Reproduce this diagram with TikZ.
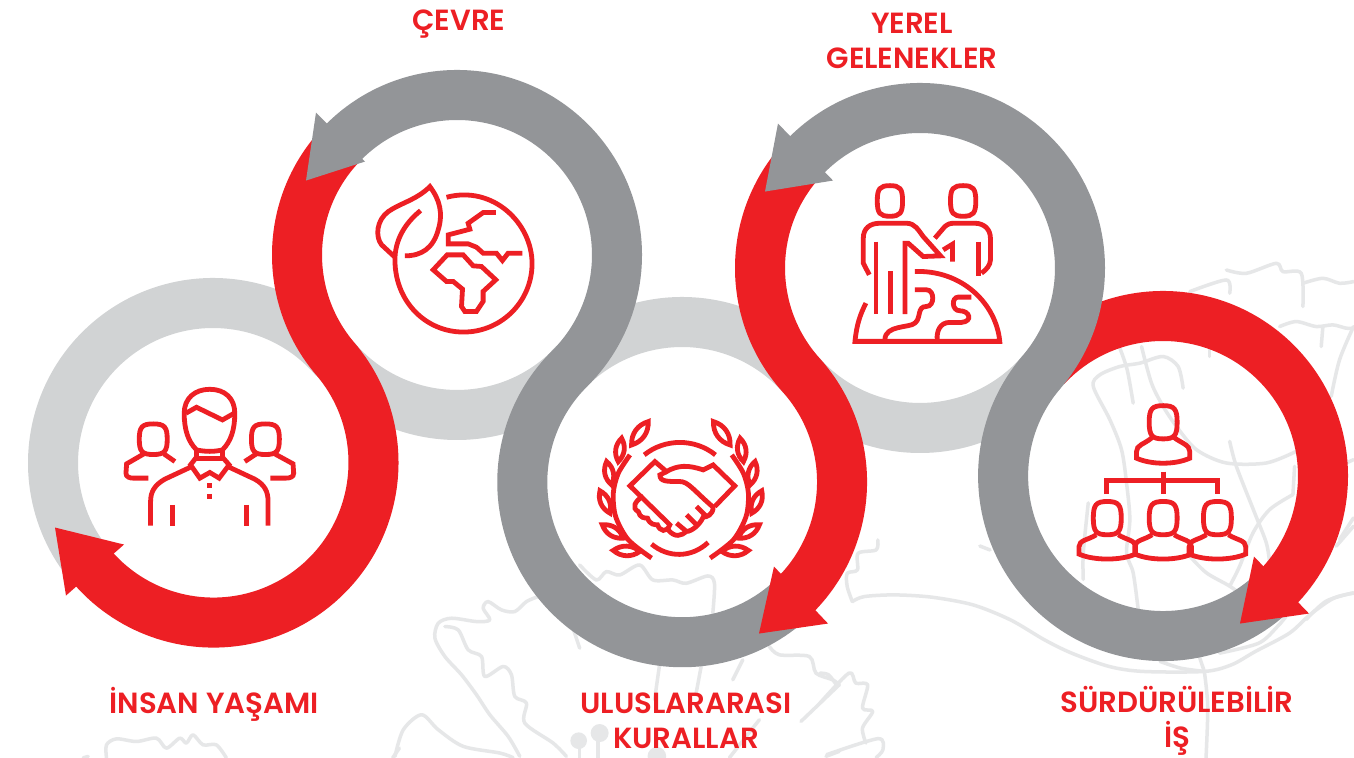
\documentclass[tikz,border=0pt]{standalone}
\usepackage{fontspec}
\setmainfont{Poppins SemiBold}
\definecolor{rred}{HTML}{ED1F24}
\definecolor{rdark}{HTML}{939598}
\definecolor{rlight}{HTML}{D1D3D4}
\definecolor{rmap}{HTML}{E6E7E8}
\tikzset{
  pxs/.style={x=0.01cm,y=-0.01cm,shift={(0cm,7.58cm)}},
  zm/.style 2 args={x=0.0033333cm,y=-0.0033333cm,shift={({#1*0.01cm},{(758-#2)*0.01cm})}},
  bandline/.style={line width=0.5cm,line cap=butt},
  icon/.style={draw=rred,line width=0.048cm,line join=miter,fill=none},
  mapline/.style={draw=rmap,line width=0.035cm,line cap=round,line join=round},
  lab/.style={text=rred,align=center,font=\fontsize{8.3pt}{9.96pt}\selectfont,inner sep=0pt}
}
\newcommand{\ringband}[4]{\draw[#1,bandline] ([shift={(#3:160)}]#2) arc[start angle=#3,end angle=#4,radius=160];}
\newcommand{\ringS}[6]{\draw[#1,bandline,line join=round] ([shift={(#3:160)}]#2) arc[start angle=#3,end angle=#4,radius=160] arc[start angle=#5,end angle=#6,radius=160];}
\newcommand{\ovhead}[4]{%
 \draw[icon] ({#1-#3},#2) .. controls ({#1-#3},{#2-0.8*#4}) and ({#1-0.8*#3},{#2-#4}) .. (#1,{#2-#4})
   .. controls ({#1+0.8*#3},{#2-#4}) and ({#1+#3},{#2-0.8*#4}) .. ({#1+#3},#2)
   .. controls ({#1+#3},{#2+0.8*#4}) and ({#1+0.8*#3},{#2+#4}) .. (#1,{#2+#4})
   .. controls ({#1-0.8*#3},{#2+#4}) and ({#1-#3},{#2+0.8*#4}) .. cycle;}
\newcommand{\leafshape}[4]{\draw[icon] (#1,#2) to[bend left=38] (#3,#4) to[bend left=38] (#1,#2) -- cycle;}
\newcommand{\orgbody}[1]{%
 \draw[icon] ({#1-33},420) .. controls ({#1-58},436) and ({#1-85},436) .. ({#1-85},456) -- ({#1-85},478)
   .. controls ({#1-40},498) and ({#1+40},498) .. ({#1+85},478) -- ({#1+85},456)
   .. controls ({#1+85},436) and ({#1+58},436) .. ({#1+33},420);}
\begin{document}
\begin{tikzpicture}[x=0.01cm,y=0.01cm]
\useasboundingbox (0,0) rectangle (1354,758);
\fill[white] (0,0) rectangle (1354,758);
% ---------- watermark map ----------
\begin{scope}[zm={380}{560}]
 \draw[mapline] plot[smooth] coordinates {(475,110)(440,125)(405,155)(365,150)(325,125)(310,145)(330,180)(290,185)(215,175)(175,190)(165,235)(195,290)(245,345)(290,405)(330,465)(385,530)(420,590)};
 \draw[mapline] plot[smooth] coordinates {(195,200)(235,210)(265,270)(305,290)(315,350)(370,320)(395,345)(405,410)(440,430)(435,490)(520,550)(560,590)};
 \draw[mapline] plot[smooth] coordinates {(600,15)(650,60)(680,35)(720,45)(780,15)(820,60)(880,60)(920,70)(985,48)(1005,70)(1000,160)};
 \draw[mapline] (575,190) -- (600,265);
 \draw[mapline] plot[smooth] coordinates {(45,590)(70,510)(125,465)(175,510)(250,560)(360,580)(400,594)};
 \draw[mapline] (840,315) -- (825,420);
 \draw[mapline] (965,320) -- (950,400);
 \draw[mapline] (1090,300) -- (1060,360);
 \draw[mapline] plot[smooth] coordinates {(1170,260)(1200,285)(1290,290)(1310,340)(1360,360)(1380,375)};
 \draw[mapline] (1380,375) -- (1265,485);
 \draw[mapline] (1140,480) -- (1050,594);
 \draw[mapline] (1340,590) -- (1380,575);
 \fill[rmap] (597,543) circle (25);
 \fill[rmap] (660,520) circle (27);
 \fill[rmap] (832,590) circle (28);
 \draw[mapline] (600,565) -- (600,594);
 \draw[mapline] (655,545) -- (655,594);
\end{scope}
\begin{scope}[zm={820}{540},xscale=1.022]
 \draw[mapline] plot[smooth] coordinates {(95,185)(130,170)(220,165)(330,172)(450,195)(560,240)(660,300)(740,340)(850,380)(950,395)(1130,395)(1210,375)(1280,335)(1380,280)(1440,225)(1510,175)(1568,160)};
 \draw[mapline] plot[smooth] coordinates {(95,185)(80,140)(80,100)(110,90)(112,40)(165,30)(170,0)};
 \draw[mapline] plot[smooth] coordinates {(1000,365)(1060,385)(1130,395)};
 \draw[mapline] plot[smooth] coordinates {(1130,395)(1140,500)(1135,654)};
 \draw[mapline] (1115,350) -- (1130,395);
 \draw[mapline] plot[smooth] coordinates {(1175,340)(1290,310)(1345,260)(1370,230)};
 \draw[mapline] plot[smooth] coordinates {(0,400)(25,405)(48,435)};
 \draw[mapline] plot[smooth] coordinates {(0,490)(85,400)(105,430)(140,435)(125,505)(155,515)(125,565)(135,610)};
 \draw[mapline] plot[smooth] coordinates {(20,645)(170,597)(185,630)(165,654)};
 \draw[mapline] (470,18) -- (500,30);
\end{scope}
\begin{scope}[zm={0}{640}]
 \draw[mapline] plot[smooth] coordinates {(320,354)(320,315)(350,297)(410,305)(470,295)(500,325)(540,295)(560,310)(580,285)(610,315)(650,315)(680,354)};
 \draw[mapline] (250,354) -- (265,350);
 \draw[mapline] (1180,354) -- (1200,325);
\end{scope}
\begin{scope}[zm={1040}{260}]
 \draw[mapline] plot[smooth] coordinates {(450,95)(560,60)(570,100)};
 \draw[mapline] plot[smooth] coordinates {(560,30)(620,40)(710,10)(730,35)(785,40)(790,140)};
 \draw[mapline] plot[smooth] coordinates {(790,70)(850,55)(900,70)(942,65)};
 \draw[mapline] plot[smooth] coordinates {(720,200)(770,185)(830,200)(880,195)(920,205)(942,205)};
 \draw[mapline] (850,200) -- (845,260);
 \draw[mapline] plot[smooth] coordinates {(942,200)(900,300)(875,410)};
 \draw[mapline] plot[smooth] coordinates {(430,385)(415,320)(370,290)(300,310)(240,320)(180,345)(160,380)(210,480)(245,570)(260,670)(270,780)(260,880)(280,940)(295,1050)};
 \draw[mapline] plot[smooth] coordinates {(240,265)(262,330)(280,430)};
 \draw[mapline] plot[smooth] coordinates {(305,260)(335,370)(370,440)(410,500)(470,570)(560,610)(680,610)(770,575)};
 \draw[mapline] (510,270) -- (510,290);
 \draw[mapline] plot[smooth] coordinates {(570,545)(590,620)(645,760)(680,850)(690,910)};
 \draw[mapline] plot[smooth] coordinates {(760,705)(690,750)(640,820)(600,920)(570,980)};
 \draw[mapline] plot[smooth] coordinates {(450,890)(500,940)(570,980)(610,1010)};
 \draw[mapline] plot[smooth] coordinates {(130,960)(130,880)(145,730)};
 \draw[mapline] (765,620) -- (760,705);
 \draw[mapline] (942,600) -- (920,610);
 \draw[mapline] (942,775) -- (900,840);
 \draw[mapline] plot[smooth] coordinates {(800,1080)(860,1025)(942,1000)};
 \draw[mapline] (942,800) -- (890,860);
\end{scope}
% ---------- ring centres ----------
\coordinate (c1) at (213,295);
\coordinate (c2) at (457,503);
\coordinate (c3) at (682,276);
\coordinate (c4) at (920,490);
\coordinate (c5) at (1163,282);
% ---------- light parts ----------
\ringband{rlight}{c1}{40.4}{222}
\ringband{rlight}{c2}{220.4}{315}
\ringband{rlight}{c3}{135}{41.9}
\ringband{rlight}{c4}{221.9}{319.7}
% ---------- red parts ----------
\ringS{rred}{c2}{136}{220.45}{40.45}{-140}
\ringS{rred}{c4}{136}{221.96}{41.96}{-46}
\ringband{rred}{c5}{137}{-45}
% ---------- dark parts ----------
\ringS{rdark}{c2}{137}{-45.25}{134.75}{315}
\ringS{rdark}{c4}{136}{-40.56}{139.44}{314}
% ---------- arrow heads ----------
\begin{scope}[pxs]
 \fill[rred] (55,528) -- (124,545) -- (66,596) -- cycle;
 \fill[rdark] (306,181) -- (316,113) -- (365,162) -- cycle;
 \fill[rred] (759,634) -- (828,624) -- (774,567) -- cycle;
 \fill[rdark] (765,192) -- (778,124) -- (833,181) -- cycle;
 \fill[rred] (1240,624) -- (1309,614) -- (1254,557) -- cycle;
 \node[lab] (t1) at (214,705) {İNSAN YAŞAMI};
 \node[lab] (t2) at (459,25) {ÇEVRE};
 \node[lab] (t3) at (686,721) {ULUSLARARASI\\KURALLAR};
 \node[lab] (t4) at (912,41) {YEREL\\GELENEKLER};
 \node[lab] (t5) at (1177,721) {SÜRDÜRÜLEBİLİR\\İŞ};
\end{scope}
% ---------- icon 1: people ----------
\begin{scope}[zm={100}{370}]
 \draw[icon] (290,240) .. controls (265,215) and (253,180) .. (253,130) .. controls (253,85) and (285,58) .. (330,58)
   .. controls (375,58) and (405,85) .. (405,130) .. controls (405,180) and (393,215) .. (368,240)
   .. controls (345,246) and (315,246) .. cycle;
 \draw[icon] (258,130) -- (290,112) -- (368,150) -- (403,130);
 \draw[icon] (290,240) -- (290,265) -- (368,265) -- (368,240);
 \draw[icon] (290,262) -- (272,285) -- (300,325) -- (330,308) -- (358,325) -- (388,285) -- (368,262);
 \draw[icon] (272,292) -- (195,328) .. controls (165,345) and (152,365) .. (152,395) -- (152,468);
 \draw[icon] (388,292) -- (465,328) .. controls (495,345) and (505,365) .. (505,395) -- (505,468);
 \draw[icon] (217,405) -- (217,470);
 \draw[icon] (440,405) -- (440,470);
 \draw[icon,line width=0.055cm] (329,340) -- (329,355);
 \draw[icon,line width=0.055cm] (329,372) -- (329,388);
 \ovhead{160}{208}{42}{46}
 \ovhead{497}{208}{42}{46}
 \draw[icon] (132,252) -- (80,282) -- (78,310) .. controls (78,322) and (90,325) .. (100,325) -- (145,325);
 \draw[icon] (192,252) -- (225,275);
 \draw[icon] (525,252) -- (580,282) -- (582,310) .. controls (582,322) and (570,325) .. (558,325) -- (512,325);
 \draw[icon] (470,252) -- (435,275);
\end{scope}
% ---------- icon 2: leaf and globe ----------
\begin{scope}[zm={360}{170}]
 \draw[icon] (260,82) .. controls (400,45) and (517,160) .. (517,281) .. controls (517,395) and (425,487) .. (311,487)
   .. controls (197,487) and (105,395) .. (105,270) .. controls (105,210) and (135,160) .. (182,122);
 \draw[icon] (105,262) -- (65,225) .. controls (45,200) and (50,150) .. (85,125) .. controls (120,100) and (170,90) .. (210,50)
   .. controls (240,90) and (250,130) .. (235,180) .. controls (220,235) and (185,258) .. (135,258);
 \draw[icon] (408,128) -- (370,128) -- (325,160) -- (330,178) -- (265,195) -- (265,222) -- (325,222) -- (350,232) -- (370,250) -- (410,250) -- (428,272) -- (445,250) -- (488,250);
 \draw[icon] (220,300) -- (262,255) -- (310,255) -- (340,288) -- (365,290) -- (408,330) -- (370,365) -- (370,395) -- (350,425) -- (315,425) -- (305,410) -- (308,358) -- (280,335) -- (260,335) -- cycle;
\end{scope}
% ---------- icon 3: handshake ----------
\begin{scope}[zm={585}{410}]
 \draw[icon] (178,135) .. controls (240,85) and (330,85) .. (392,135);
 \draw[icon] (200,403) .. controls (250,445) and (320,445) .. (370,398);
 \draw[icon] plot[smooth] coordinates {(200,445)(130,390)(92,320)(85,250)(100,190)(135,135)};
 \draw[icon] plot[smooth] coordinates {(376,445)(446,390)(484,320)(491,250)(476,190)(441,135)};
 \leafshape{190}{35}{140}{105}
 \leafshape{110}{85}{100}{155}
 \leafshape{65}{155}{80}{225}
 \leafshape{45}{243}{75}{310}
 \leafshape{52}{345}{115}{385}
 \leafshape{85}{422}{165}{425}
 \leafshape{386}{35}{436}{105}
 \leafshape{466}{85}{476}{155}
 \leafshape{511}{155}{496}{225}
 \leafshape{531}{243}{501}{310}
 \leafshape{524}{345}{461}{385}
 \leafshape{491}{422}{411}{425}
 \draw[icon] (170,262) -- (135,228) -- (210,155) -- (245,185) .. controls (280,165) and (310,165) .. (355,180) -- (385,165) -- (450,228) -- (390,290);
 \draw[icon] (245,185) -- (225,195) .. controls (225,215) and (245,215) .. (285,215) .. controls (310,215) and (325,240) .. (385,292)
   .. controls (385,315) and (365,322) .. (355,322) .. controls (345,345) and (320,365) .. (305,365) .. controls (290,378) and (270,385) .. (250,360);
 \draw[icon] (335,290) -- (365,320);
 \draw[icon] (305,315) -- (335,345);
 \draw[icon] (275,340) -- (305,365);
 \draw[icon] (170,262) .. controls (150,275) and (140,295) .. (160,305) .. controls (165,325) and (180,325) .. (188,325)
   .. controls (195,345) and (210,345) .. (218,345) .. controls (225,365) and (245,370) .. (255,345) -- cycle;
\end{scope}
% ---------- icon 4: people and globe ----------
\begin{scope}[zm={840}{175}]
 \ovhead{150}{78}{38}{46}
 \ovhead{370}{78}{38}{46}
 \draw[icon] (88,300) -- (70,265) -- (70,190) .. controls (70,160) and (90,145) .. (120,145) -- (200,145) .. controls (225,145) and (235,165) .. (250,185) -- (302,243) -- (250,245) -- (205,205) -- (195,205) -- (195,418);
 \draw[icon] (108,200) -- (108,418);
 \draw[icon] (152,290) -- (152,418);
 \draw[icon] (285,190) -- (315,155) .. controls (325,147) and (330,145) .. (345,145) -- (405,145) .. controls (435,145) and (452,165) .. (452,190) -- (452,255) .. controls (452,270) and (440,285) .. (425,295);
 \draw[icon] (415,200) -- (415,305);
 \draw[icon] (310,225) -- (338,208) -- (338,260);
 \draw[icon] (78,385) .. controls (60,420) and (50,450) .. (45,500) -- (480,500) .. controls (470,390) and (370,285) .. (225,290);
 \draw[icon] (225,345) -- (260,345) .. controls (285,345) and (285,395) .. (260,395) .. controls (230,395) and (245,430) .. (225,445) .. controls (210,460) and (135,450) .. (135,495);
 \draw[icon] (395,367) -- (355,367) .. controls (335,367) and (335,408) .. (360,408) .. controls (390,408) and (400,440) .. (365,443) -- (330,443) .. controls (300,443) and (290,470) .. (292,495);
\end{scope}
% ---------- icon 5: organisation ----------
\begin{scope}[zm={1065}{395}]
 \ovhead{295}{82}{42}{50}
 \draw[icon] (262,128) .. controls (235,150) and (215,150) .. (215,170) -- (215,190) .. controls (260,210) and (330,210) .. (375,190) -- (375,170) .. controls (375,150) and (350,145) .. (328,128);
 \draw[icon] (295,230) -- (295,298);
 \draw[icon] (125,298) -- (125,258) -- (457,258) -- (457,298);
 \ovhead{127}{370}{42}{50}
 \ovhead{295}{370}{42}{50}
 \ovhead{458}{370}{42}{50}
 \orgbody{127}
 \orgbody{295}
 \orgbody{458}
\end{scope}
\end{tikzpicture}
\end{document}
